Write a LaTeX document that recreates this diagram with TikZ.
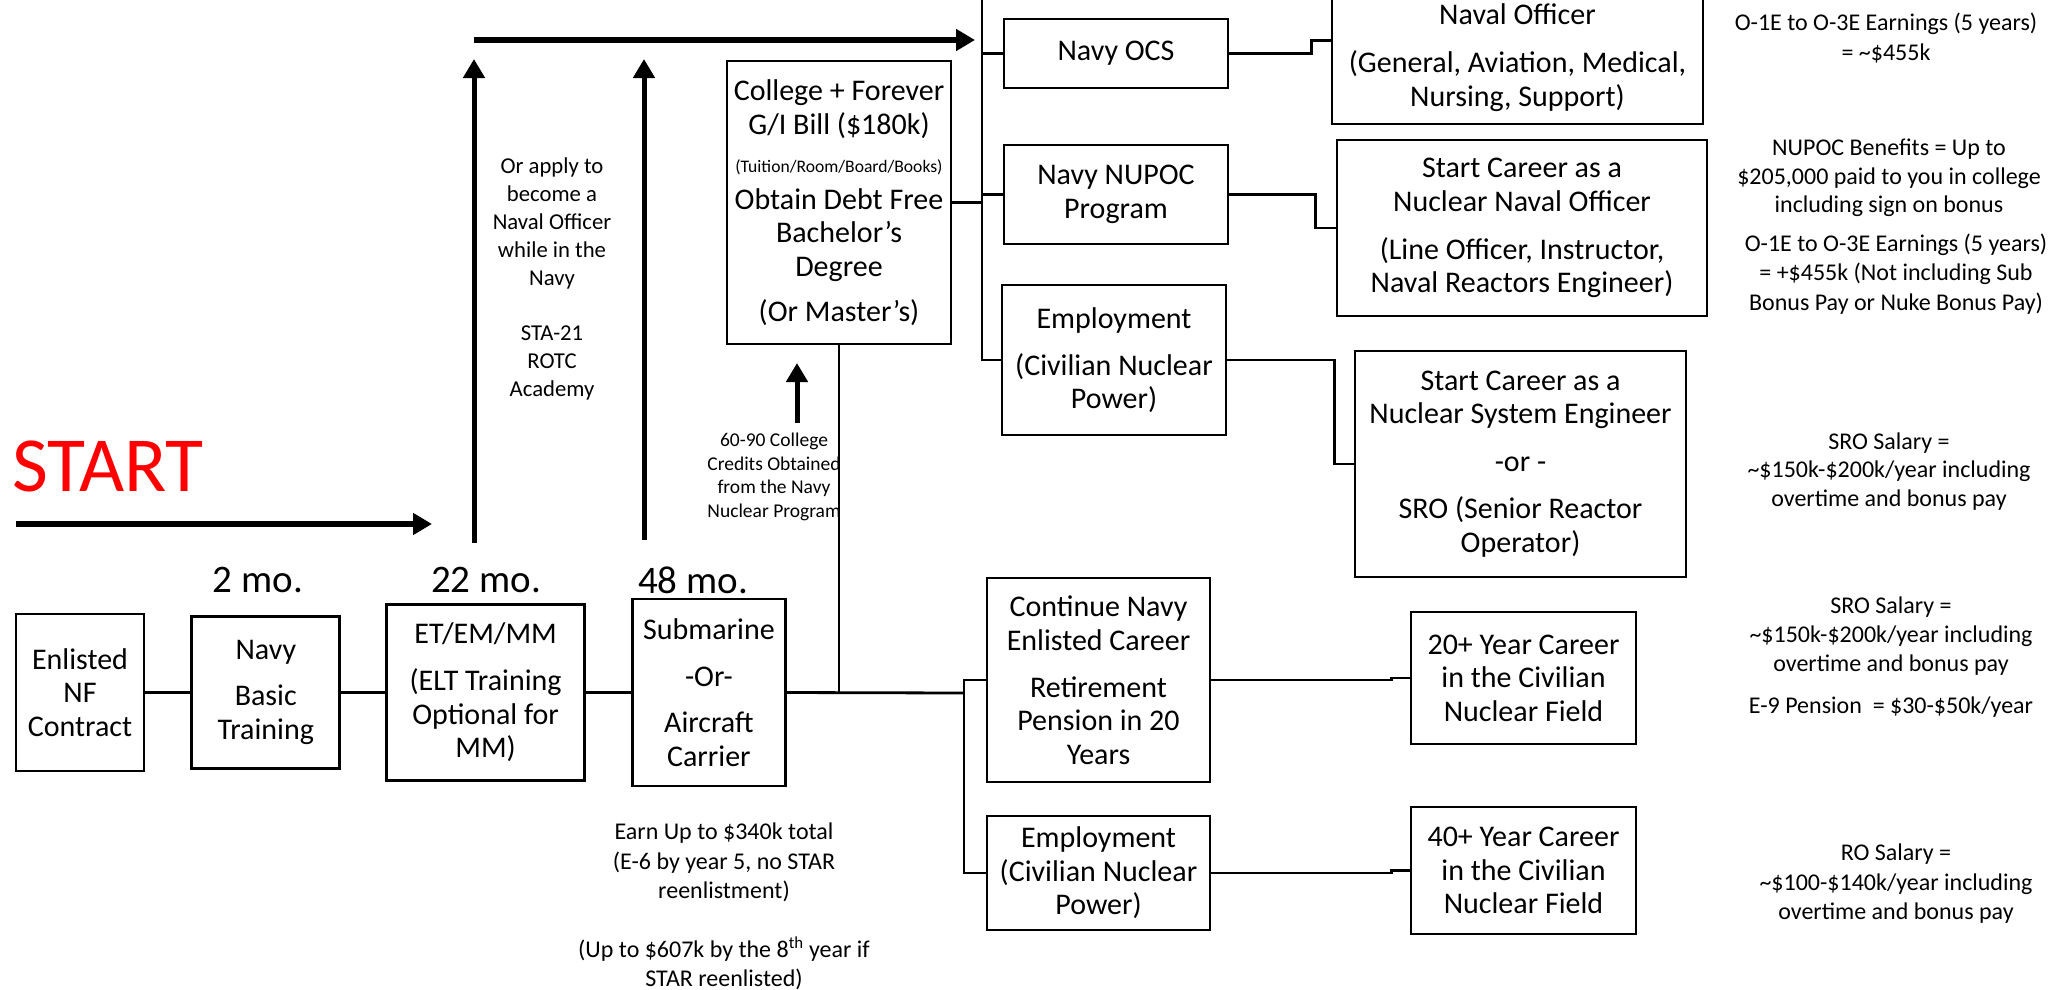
\documentclass[tikz,border=0pt]{standalone}
\usepackage{fontspec}
\setmainfont{Carlito}
\usepackage{tikz}
\usetikzlibrary{arrows.meta,positioning}
\definecolor{NvRed}{HTML}{FF0000}
\tikzset{
  nvBox/.style={
    rectangle, draw=black, line width=2.8pt, align=center, text=black,
    inner sep=0pt, font=\fontsize{30}{33.5}\selectfont
  },
  nvNote/.style={
    align=center, text=black, inner sep=0pt, font=\fontsize{24}{29.5}\selectfont
  },
  nvSmall/.style={
    align=center, text=black, inner sep=0pt, font=\fontsize{#1}{#1*1.2}\selectfont
  },
  nvTime/.style={inner sep=0pt, font=\fontsize{39}{44}\selectfont},
  nvLink/.style={draw=black, line width=2.8pt},
  nvArrow/.style={-{Triangle[length=19pt,width=21pt]}, draw=black, line width=6pt}
}

\begin{document}
\begin{tikzpicture}[x=1pt, y=-1pt]
  \useasboundingbox (0,0) rectangle (2053,989);

  \node[inner sep=0pt, text=NvRed, font=\fontsize{78}{80}\selectfont] (start) at (108,466) {START};

  \node[nvBox, minimum width=128pt, minimum height=157pt] (enl) at (80,692.5) {Enlisted\\NF\\Contract};
  \node[nvBox, minimum width=148pt, minimum height=152pt, right=45pt of enl] (nbt) {Navy\\[12.5pt]Basic\\Training};
  \node[nvBox, minimum width=198pt, minimum height=176pt, right=44pt of nbt] (et) {ET/EM/MM\\[13.5pt](ELT Training\\Optional for\\MM)};
  \node[nvBox, minimum width=153pt, minimum height=187pt, right=45pt of et] (sub) {Submarine\\[14pt]-Or-\\[12.5pt]Aircraft\\Carrier};

  \node[nvTime] (mo2) at (258,580) {2 mo.};
  \node[nvTime] (mo22) at (486,580) {22 mo.};
  \node[nvTime] (mo48) at (693,580) {48 mo.};

  \node[nvBox, minimum width=224pt, minimum height=283pt] (col) at (839,202.5)
    {College + Forever\\G/I Bill (\$180k)\\[4.5pt]{\fontsize{17.6}{20}\selectfont(Tuition/Room/Board/Books)}\\[3.5pt]Obtain Debt Free\\Bachelor’s\\Degree\\[11.5pt](Or Master’s)};

  \node[nvBox, minimum width=224pt, minimum height=69pt] (ocs) at (1116,53.5) {Navy OCS};
  \node[nvBox, minimum width=224pt, minimum height=99pt] (nup) at (1116,194.5) {Navy NUPOC\\Program};
  \node[nvBox, minimum width=224pt, minimum height=150pt] (emp1) at (1114,360) {Employment\\[13.5pt](Civilian Nuclear\\Power)};

  \node[nvBox, minimum width=371pt, minimum height=133pt] (off) at (1517.5,57.5) {Naval Officer\\[14.5pt](General, Aviation, Medical,\\Nursing, Support)};
  \node[nvBox, minimum width=370pt, minimum height=176pt] (nno) at (1522,228) {Start Career as a\\Nuclear Naval Officer\\[14.5pt](Line Officer, Instructor,\\Naval Reactors Engineer)};
  \node[nvBox, minimum width=331pt, minimum height=226pt] (nse) at (1520.5,464) {Start Career as a\\Nuclear System Engineer\\[14.5pt]-or -\\[13.5pt]SRO (Senior Reactor\\Operator)};

  \node[nvBox, minimum width=223pt, minimum height=204pt] (cont) at (1098.5,680) {Continue Navy\\Enlisted Career\\[13.5pt]Retirement\\Pension in 20\\Years};
  \node[nvBox, minimum width=223pt, minimum height=114pt] (emp2) at (1098.5,873) {Employment\\(Civilian Nuclear\\Power)};
  \node[nvBox, minimum width=225pt, minimum height=132pt] (tw) at (1523.5,678) {20+ Year Career\\in the Civilian\\Nuclear Field};
  \node[nvBox, minimum width=225pt, minimum height=127pt] (fo) at (1523.5,870.5) {40+ Year Career\\in the Civilian\\Nuclear Field};

  \node[nvSmall=22.7, font=\fontsize{22.7}{28}\selectfont] (apply) at (552,279) {Or apply to\\become a\\Naval Officer\\while in the\\Navy\\[27pt]STA-21\\ROTC\\Academy};
  \node[nvSmall=19.5, font=\fontsize{19.5}{23.5}\selectfont] (credits) at (774,477) {60-90 College\\Credits Obtained\\from the Navy\\Nuclear Program};
  \node[nvNote] (earn) at (724,906.5) {Earn Up to \$340k total\\(E-6 by year 5, no STAR\\reenlistment)\\[29pt](Up to \$607k by the 8\textsuperscript{th} year if\\STAR reenlisted)};

  \node[nvNote] (offpay) at (1886,38) {O-1E to O-3E Earnings (5 years)\\= \textasciitilde\$455k};
  \node[nvNote, font=\fontsize{24}{28.5}\selectfont] (nupben) at (1889,178) {NUPOC Benefits = Up to\\\$205,000 paid to you in college\\including sign on bonus};
  \node[nvNote] (nnopay) at (1896,274) {O-1E to O-3E Earnings (5 years)\\= +\$455k (Not including Sub\\Bonus Pay or Nuke Bonus Pay)};
  \node[nvNote, font=\fontsize{24}{28.5}\selectfont] (sropay) at (1889,471.5) {SRO Salary =\\\textasciitilde\$150k-\$200k/year including\\overtime and bonus pay};
  \node[nvNote, font=\fontsize{24}{29}\selectfont] (navpay) at (1891,657.5) {SRO Salary =\\\textasciitilde\$150k-\$200k/year including\\overtime and bonus pay\\[13pt]E-9 Pension\ \ = \$30-\$50k/year};
  \node[nvNote] (ropay) at (1896,884) {RO Salary =\\\textasciitilde\$100-\$140k/year including\\overtime and bonus pay};

  \coordinate (startL) at (16,524);
  \coordinate (startR) at (432,524);
  \coordinate (topL) at (474,40);
  \coordinate (topR) at (975,40);
  \coordinate (upA) at (474,543);
  \coordinate (upAtip) at (474,59);
  \coordinate (upB) at (644,540);
  \coordinate (upBtip) at (644,59);
  \coordinate (crd) at (797,423);
  \coordinate (crdtip) at (797,363);
  \coordinate (fork) at (964,693);
  \coordinate (brTop) at (982,-5);
  \coordinate (brJoin) at (982,202.5);

  \draw[nvArrow] (startL) -- (startR);
  \draw[nvArrow] (topL) -- (topR);
  \draw[nvArrow, line width=5pt] (upA) -- (upAtip);
  \draw[nvArrow, line width=5pt] (upB) -- (upBtip);
  \draw[nvArrow, line width=5pt] (crd) -- (crdtip);

  \draw[nvLink] (enl) -- (nbt);
  \draw[nvLink] (nbt) -- (et);
  \draw[nvLink] (et) -- (sub);
  \draw[nvLink] (sub.east) -- (fork);
  \draw[nvLink] (fork) |- (cont.west);
  \draw[nvLink] (fork) |- (emp2.west);
  \draw[nvLink] (col.south) -- (col.south |- fork);

  \draw[nvLink] (col.east) -- (brJoin);
  \draw[nvLink] (brTop) |- (emp1.west);
  \draw[nvLink] (ocs.west -| brJoin) -- (ocs.west);
  \draw[nvLink] (nup.west -| brJoin) -- (nup.west);

  \draw[nvLink] (ocs.east) -- ++(82,0) |- ([yshift=17pt]off.west);
  \draw[nvLink] (nup.east) -- ++(86,0) |- (nno.west);
  \draw[nvLink] (emp1.east) -- ++(107,0) |- (nse.west);
  \draw[nvLink] (cont.east) -- ++(180,0) |- (tw.west);
  \draw[nvLink] (emp2.east) -- ++(180,0) |- (fo.west);
\end{tikzpicture}
\end{document}
